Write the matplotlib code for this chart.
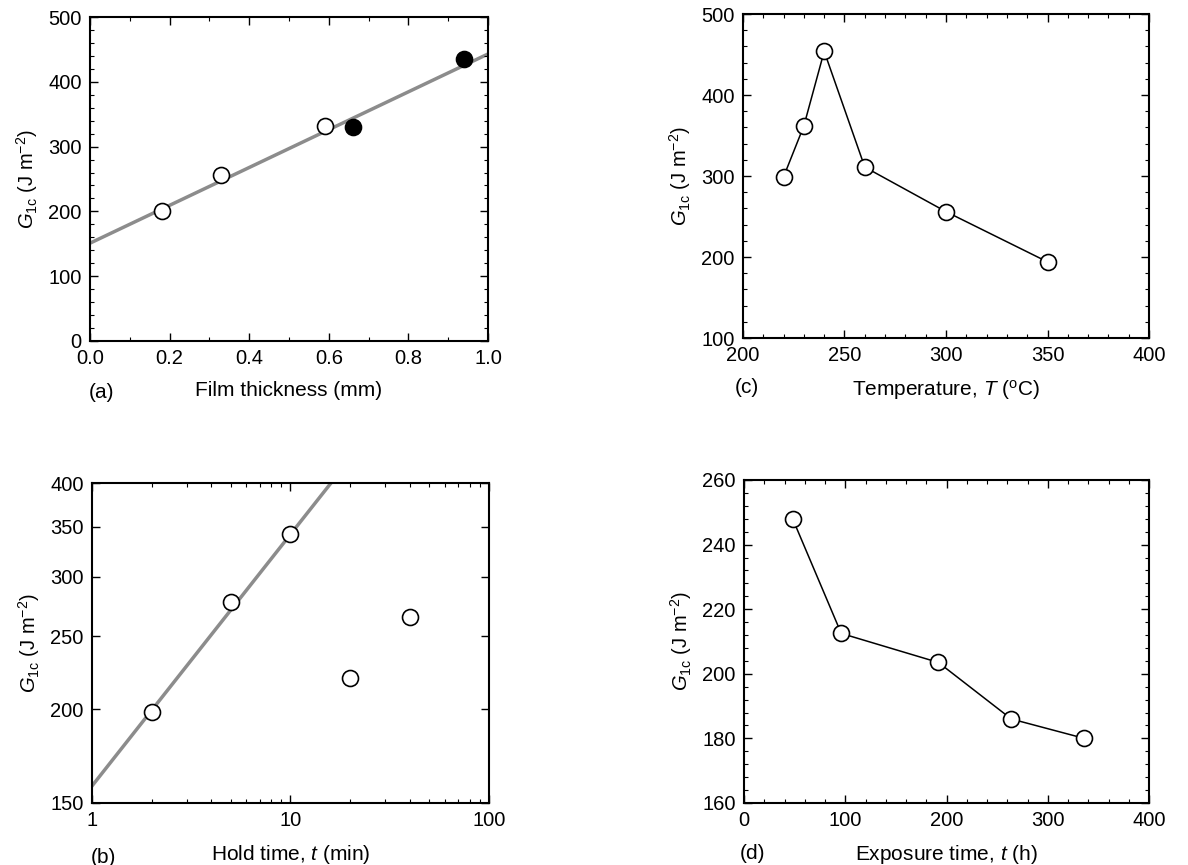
import matplotlib
matplotlib.use('Agg')
import matplotlib.pyplot as plt
from matplotlib.ticker import MultipleLocator, FixedLocator, NullFormatter, NullLocator
import numpy as np

plt.rcParams['font.family'] = ['Liberation Sans', 'DejaVu Sans']
plt.rcParams['mathtext.fontset'] = 'custom'
plt.rcParams['mathtext.rm'] = 'Liberation Sans'
plt.rcParams['mathtext.it'] = 'Liberation Sans:italic'
plt.rcParams['font.size'] = 14

# (a) film thickness
thick_open = [0.18, 0.33, 0.59]
g_thick_open = [200, 256, 332]
thick_fill = [0.66, 0.94]
g_thick_fill = [330, 436]
thick_fit = [0.0, 1.0]
g_thick_fit = [151, 443]

# (b) hold time (log-log)
hold_t = [2, 5, 10, 20, 40]
g_hold = [198, 278, 342, 220, 265]
hold_fit_t = [1, 16]
hold_fit_g = [158, 400]

# (c) temperature
temp = [220, 230, 240, 260, 300, 350]
g_temp = [299, 362, 454, 311, 256, 194]

# (d) exposure time
expo = [48, 96, 192, 264, 336]
g_expo = [248, 212.5, 203.5, 186, 180]

ylab = r'$G_{\mathrm{1c}}$ (J m$^{-2}$)'
mk = dict(marker='o', markersize=11.5, markeredgewidth=1.2, markeredgecolor='black')
TICK = 14.5
LAB = 15

fig = plt.figure(figsize=(11.88, 8.65), dpi=100)
ax_a = fig.add_axes([0.0758, 0.6058, 0.335, 0.3745])
ax_b = fig.add_axes([0.0774, 0.0717, 0.3342, 0.3699])
ax_c = fig.add_axes([0.6254, 0.6092, 0.3418, 0.3746])
ax_d = fig.add_axes([0.6263, 0.0717, 0.3409, 0.3734])

for ax in [ax_a, ax_b, ax_c, ax_d]:
    ax.tick_params(which='both', direction='in', top=True, right=True, labelsize=TICK, pad=6)
    ax.tick_params(which='major', length=6, width=1)
    ax.tick_params(which='minor', length=3, width=0.8)
    for s in ax.spines.values():
        s.set_linewidth(1.5)

# (a)
ax_a.plot(thick_fit, g_thick_fit, color='0.55', lw=2.5, zorder=1)
ax_a.plot(thick_open, g_thick_open, linestyle='none', markerfacecolor='white', zorder=3, **mk)
ax_a.plot(thick_fill, g_thick_fill, linestyle='none', markerfacecolor='black', zorder=3, **mk)
ax_a.set_xlim(0, 1.0)
ax_a.set_ylim(0, 500)
ax_a.xaxis.set_major_locator(MultipleLocator(0.2))
ax_a.xaxis.set_minor_locator(MultipleLocator(0.1))
ax_a.yaxis.set_major_locator(MultipleLocator(100))
ax_a.yaxis.set_minor_locator(MultipleLocator(20))
ax_a.xaxis.set_major_formatter(matplotlib.ticker.FormatStrFormatter('%.1f'))
ax_a.set_xlabel('Film thickness (mm)', fontsize=LAB, labelpad=9)
ax_a.set_ylabel(ylab, fontsize=14.5, labelpad=6)
ax_a.text(0.03, -0.16, '(a)', transform=ax_a.transAxes, ha='center', va='center', fontsize=LAB)

# (b)
ax_b.set_xscale('log')
ax_b.set_yscale('log')
ax_b.plot(hold_fit_t, hold_fit_g, color='0.55', lw=2.5, zorder=1)
ax_b.plot(hold_t, g_hold, linestyle='none', markerfacecolor='white', zorder=3, **mk)
ax_b.set_xlim(1, 100)
ax_b.set_ylim(150, 400)
ax_b.xaxis.set_major_locator(FixedLocator([1, 10, 100]))
ax_b.xaxis.set_major_formatter(matplotlib.ticker.FixedFormatter(['1', '10', '100']))
ax_b.yaxis.set_major_locator(FixedLocator([150, 200, 250, 300, 350, 400]))
ax_b.yaxis.set_major_formatter(matplotlib.ticker.FixedFormatter(['150', '200', '250', '300', '350', '400']))
ax_b.yaxis.set_minor_locator(NullLocator())
ax_b.xaxis.set_minor_formatter(NullFormatter())
ax_b.set_xlabel(r'Hold time, $t$ (min)', fontsize=LAB, labelpad=9)
ax_b.set_ylabel(ylab, fontsize=14.5, labelpad=6)
ax_b.text(0.03, -0.169, '(b)', transform=ax_b.transAxes, ha='center', va='center', fontsize=LAB)

# (c)
ax_c.plot(temp, g_temp, color='black', lw=1.1, markerfacecolor='white', **mk)
ax_c.set_xlim(200, 400)
ax_c.set_ylim(100, 500)
ax_c.xaxis.set_major_locator(MultipleLocator(50))
ax_c.xaxis.set_minor_locator(MultipleLocator(10))
ax_c.yaxis.set_major_locator(MultipleLocator(100))
ax_c.yaxis.set_minor_locator(MultipleLocator(20))
ax_c.set_xlabel(r'Temperature, $T$ ($^{\mathrm{o}}$C)', fontsize=LAB, labelpad=9)
ax_c.set_ylabel(ylab, fontsize=14.5, labelpad=6)
ax_c.text(0.01, -0.154, '(c)', transform=ax_c.transAxes, ha='center', va='center', fontsize=LAB)

# (d)
ax_d.plot(expo, g_expo, color='black', lw=1.1, markerfacecolor='white', **mk)
ax_d.set_xlim(0, 400)
ax_d.set_ylim(160, 260)
ax_d.xaxis.set_major_locator(MultipleLocator(100))
ax_d.xaxis.set_minor_locator(MultipleLocator(20))
ax_d.yaxis.set_major_locator(MultipleLocator(20))
ax_d.yaxis.set_minor_locator(MultipleLocator(4))
ax_d.set_xlabel(r'Exposure time, $t$ (h)', fontsize=LAB, labelpad=9)
ax_d.set_ylabel(ylab, fontsize=14.5, labelpad=6)
ax_d.text(0.022, -0.155, '(d)', transform=ax_d.transAxes, ha='center', va='center', fontsize=LAB)

fig.savefig('out.png', dpi=100)
